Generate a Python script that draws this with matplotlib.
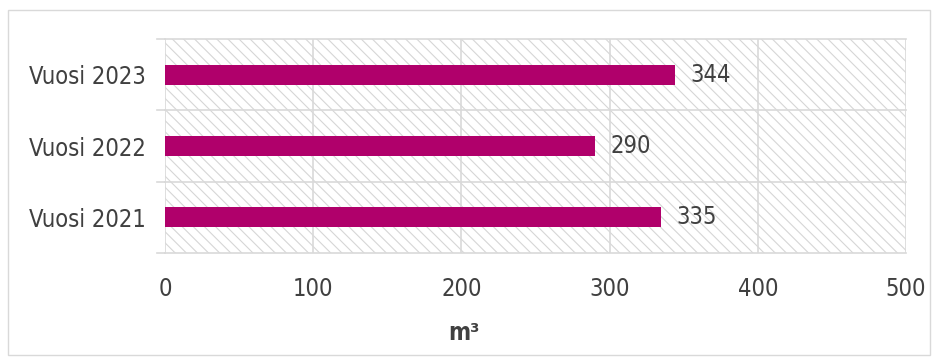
import matplotlib
matplotlib.use("Agg")
import matplotlib.pyplot as plt
from matplotlib.patches import Rectangle

categories = ["Vuosi 2021", "Vuosi 2022", "Vuosi 2023"]
values = [335, 290, 344]
x_ticks = [0, 100, 200, 300, 400, 500]
x_label = "m³"

bar_color = "#B0006B"
grid_color = "#D9D9D9"
text_color = "#404040"
fs = 17

plt.rcParams["font.family"] = ["DejaVu Sans"]
plt.rcParams["font.stretch"] = "condensed"
plt.rcParams["hatch.linewidth"] = 0.8
plt.rcParams["hatch.color"] = "#D6D6D6"

W, H = 939, 364
fig = plt.figure(figsize=(W / 100, H / 100), dpi=100)
fig.patch.set_facecolor("white")
fig.add_artist(Rectangle((8 / W, 1 - 355 / H), 922 / W, 345 / H,
                         transform=fig.transFigure, fill=False,
                         edgecolor=grid_color, linewidth=1))

left, right, top, bottom = 165, 906, 39, 253
ax = fig.add_axes([left / W, 1 - bottom / H, (right - left) / W, (bottom - top) / H])

ax.set_xlim(0, 500)
ax.set_ylim(-0.5, len(categories) - 0.5)

# hatched plot background
ax.add_patch(Rectangle((0, 0), 1, 1, transform=ax.transAxes, facecolor="white",
                       edgecolor="#D6D6D6", hatch="\\\\\\", linewidth=0, zorder=0))

y = list(range(len(categories)))
ax.barh(y, values, height=0.28, color=bar_color, zorder=3)

for yi, v in zip(y, values):
    ax.annotate(str(v), (v, yi), xytext=(11, 0), textcoords="offset points",
                va="center", ha="left", fontsize=fs, color=text_color, zorder=4)

# grid
for xt in x_ticks[1:]:
    ax.axvline(xt, color=grid_color, linewidth=1.2, zorder=1)
for b in [-0.5, 0.5, 1.5, 2.5]:
    ax.axhline(b, color=grid_color, linewidth=1.2, zorder=1, clip_on=False)
    ax.plot([-8 / 1.482, 0], [b, b], color=grid_color, linewidth=1.2, clip_on=False)
ax.axvline(0, color=grid_color, linewidth=1.2, zorder=1)

for s in ax.spines.values():
    s.set_visible(False)

ax.set_xticks(x_ticks)
ax.set_xticklabels([str(t) for t in x_ticks], fontsize=fs, color=text_color)
ax.set_yticks(y)
ax.set_yticklabels(categories, fontsize=fs, color=text_color)
ax.tick_params(axis="both", length=0)
ax.tick_params(axis="x", pad=17)
ax.tick_params(axis="y", pad=14)

fig.text(464 / W, 1 - 340 / H, x_label, ha="center", va="baseline",
         fontsize=fs, fontweight="bold", color=text_color)

fig.savefig("out.png", dpi=100, facecolor="white")
